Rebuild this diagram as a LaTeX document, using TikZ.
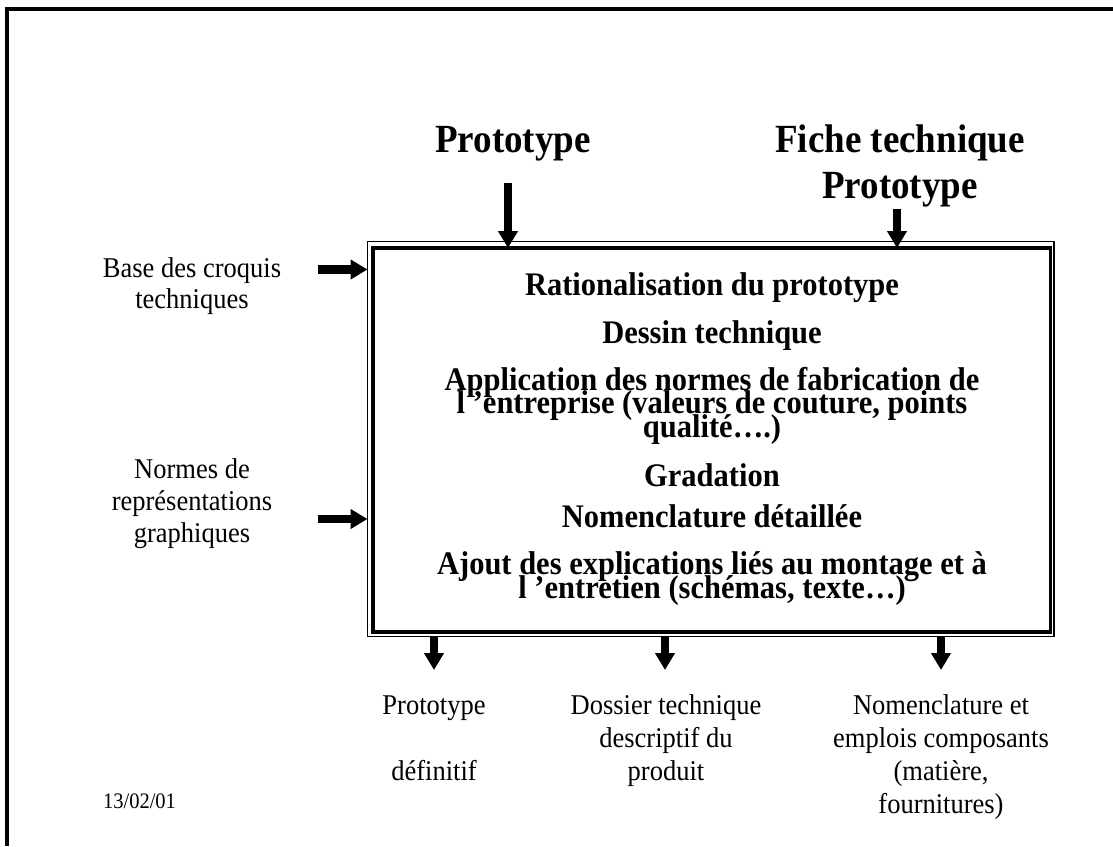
\documentclass[tikz,border=0pt]{standalone}
\usepackage{fontspec}
\setmainfont{Liberation Serif}
\usetikzlibrary{arrows.meta}

% slightly tall lettering
\newcommand\tall[1]{\scalebox{1}[1.08]{#1}}

\tikzset{
  bigarrow/.style={line width=8.5pt, -{Triangle[length=17pt,width=19pt]}},
  headline/.style={font=\fontsize{37}{46}\selectfont\bfseries, inner sep=0pt, anchor=base},
  boxline/.style={font=\fontsize{30.5}{22}\selectfont\bfseries, inner sep=0pt, anchor=base},
  sideline/.style={font=\fontsize{26.5}{32}\selectfont, inner sep=0pt, anchor=base},
  dateline/.style={font=\fontsize{20.5}{24}\selectfont, inner sep=0pt, anchor=base},
}

\begin{document}
\begin{tikzpicture}[x=1pt,y=-1pt]
\useasboundingbox (0,0) rectangle (1113,846);

% page frame (top and left edges)
\draw[line width=4pt] (7,846) -- (7,8.5) -- (1113,8.5);

% process box: thin outer line and thick inner line
\node[draw, line width=1.3pt, minimum width=686.5pt, minimum height=395pt,
      inner sep=0pt, outer sep=0pt] (shell) at (710.75,439) {};
\node[draw, line width=3.3pt, minimum width=677.5pt, minimum height=384pt,
      inner sep=0pt, outer sep=0pt] (box) at (711.75,440) {};

% inputs from above
\node[headline] (proto) at (513,152) {\tall{Prototype}};
\node[headline] (fiche) at (900,152) {\tall{Fiche technique}};
\node[headline] (fiche2) at (900,198) {\tall{Prototype}};
\coordinate (pin1) at (508,183);
\coordinate (pin2) at (897,209);
\draw[bigarrow] (pin1) -- (pin1 |- box.north);
\draw[bigarrow] (pin2) -- (pin2 |- box.north);

% inputs from the left
\node[sideline] (base1) at (192,277) {\tall{Base des croquis}};
\node[sideline] (base2) at (192,308.5) {\tall{techniques}};
\node[sideline] (norm1) at (192,478) {\tall{Normes de}};
\node[sideline] (norm2) at (192,510) {\tall{représentations}};
\node[sideline] (norm3) at (192,542) {\tall{graphiques}};
\coordinate (lin1) at (318,269.5);
\coordinate (lin2) at (318,519);
\draw[bigarrow] (lin1) -- (lin1 -| shell.west);
\draw[bigarrow] (lin2) -- (lin2 -| shell.west);

% activities inside the box
\node[boxline] (t1) at (712,295) {\tall{Rationalisation du prototype}};
\node[boxline] (t2) at (712,343) {\tall{Dessin technique}};
\node[boxline] (t3a) at (712,390) {\tall{Application des normes de fabrication de}};
\node[boxline] (t3b) at (712,413.5) {\tall{l ’entreprise (valeurs de couture, points}};
\node[boxline] (t3c) at (712,437) {\tall{qualité….)}};
\node[boxline] (t4) at (712,486) {\tall{Gradation}};
\node[boxline] (t5) at (712,527) {\tall{Nomenclature détaillée}};
\node[boxline] (t6a) at (712,574.5) {\tall{Ajout des explications liés au montage et à}};
\node[boxline] (t6b) at (712,598) {\tall{l ’entretien (schémas, texte…)}};

% outputs below
\coordinate (out1) at (434,670);
\coordinate (out2) at (665,670);
\coordinate (out3) at (941,670);
\draw[bigarrow] (out1 |- shell.south) -- (out1);
\draw[bigarrow] (out2 |- shell.south) -- (out2);
\draw[bigarrow] (out3 |- shell.south) -- (out3);

\node[sideline] (o1a) at (434,714) {\tall{Prototype}};
\node[sideline] (o1b) at (434,780) {\tall{définitif}};
\node[sideline] (o2a) at (666,714) {\tall{Dossier technique}};
\node[sideline] (o2b) at (666,747) {\tall{descriptif du}};
\node[sideline] (o2c) at (666,780) {\tall{produit}};
\node[sideline] (o3a) at (941,714) {\tall{Nomenclature et}};
\node[sideline] (o3b) at (941,747) {\tall{emplois composants}};
\node[sideline] (o3c) at (941,780) {\tall{(matière,}};
\node[sideline] (o3d) at (941,813) {\tall{fournitures)}};

% date
\node[dateline] (date) at (139.5,808) {\tall{13/02/01}};
\end{tikzpicture}
\end{document}
